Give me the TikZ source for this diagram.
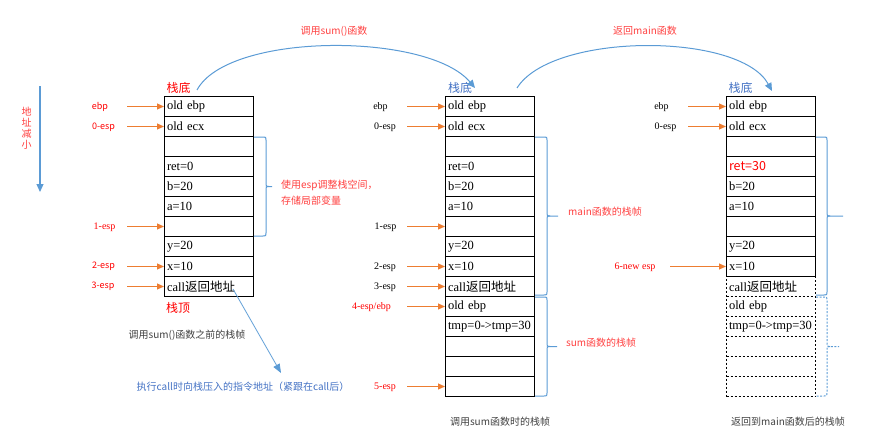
\documentclass[tikz,border=0pt]{standalone}
\usepackage{fontspec}
\setmainfont{Liberation Serif}
\newfontfamily\cjk{Noto Sans CJK SC}
\usetikzlibrary{arrows.meta,calc}

\definecolor{ored}{RGB}{237,125,49}
\definecolor{lblue}{RGB}{91,155,213}
\definecolor{dblue}{RGB}{68,114,196}
\definecolor{lred}{RGB}{255,64,64}
\definecolor{capgray}{RGB}{64,64,64}

\newcommand\ofbrace[6]{%
  \pgfmathsetmacro\bm{(#2+#3)/2}%
  \draw[#6] (#1,#2) -- ({#4-3},#2) .. controls (#4,#2) .. (#4,{#2+3}) -- (#4,{\bm-3}) .. controls (#4,\bm) .. ({#4+3},\bm) -- (#5,\bm);
  \draw[#6] ({#4+3},\bm) .. controls (#4,\bm) .. (#4,{\bm+3}) -- (#4,{#3-3}) .. controls (#4,#3) .. ({#4-3},#3) -- (#1,#3);
}

\begin{document}
\begin{tikzpicture}[x=1pt,y=-1pt,
  cell/.style={draw=black, line width=1pt, anchor=north west, minimum width=89pt, minimum height=20pt,
    inner xsep=2.5pt, inner ysep=0pt, text width=84pt, align=left, font=\fontsize{12.5}{14}\selectfont},
  dcell/.style={cell, dash pattern=on 2pt off 2pt},
  oarr/.style={draw=ored, line width=1pt, -{Triangle[length=7pt,width=6pt]}},
  barc/.style={draw=lblue, line width=1pt, -{Triangle[length=8pt,width=7pt]}},
  brc/.style={draw=lblue, line width=1pt},
  serlab/.style={font=\fontsize{10}{11}\selectfont, inner sep=0pt},
  sanlab/.style={font=\cjk\fontsize{9}{10}\selectfont, inner sep=0pt},
  captxt/.style={font=\cjk\fontsize{10}{12}\selectfont, text=capgray, inner sep=0pt},
  stk/.style={font=\cjk\fontsize{12}{13}\selectfont, inner sep=0pt},
  redtxt/.style={font=\cjk\fontsize{10}{12}\selectfont, text=lred, inner sep=0pt}
]
\useasboundingbox (0,0) rectangle (873,447);

% ---------- left column ----------
\foreach \t [count=\i] in {old ebp, old ecx, {}, ret=0, b=20, a=10, {}, y=20, x=10, call{\cjk 返回地址}}
  \node[cell] (L\i) at (164,{76+20*\i}) {\t};

% ---------- middle column ----------
\foreach \t [count=\i] in {old ebp, old ecx, {}, ret=0, b=20, a=10, {}, y=20, x=10, call{\cjk 返回地址}, old ebp, tmp=0->tmp=30, {}, {}, {}}
  \node[cell] (M\i) at (445,{76+20*\i}) {\t};

% ---------- right column ----------
\foreach \t [count=\i] in {old ebp, old ecx, {}, {\cjk\color{red}ret=30}, b=20, a=10, {}, y=20, x=10}
  \node[cell] (R\i) at (726,{76+20*\i}) {\t};
\foreach \t [count=\i from 10] in {call{\cjk 返回地址}, old ebp, tmp=0->tmp=30, {}, {}, {}}
  \node[dcell] (R\i) at (726,{76+20*\i}) {\t};

% ---------- stack labels ----------
\node[stk, text=red] (Lbot) at (178.5,88) {栈底};
\node[stk, text=red] (Ltop) at (178,308) {栈顶};
\node[stk, text=dblue] (Mbot) at (460,88) {栈底};
\node[stk, text=dblue] (Rbot) at (740.5,88) {栈底};

% ---------- pointer labels and arrows: left ----------
\node[sanlab, text=red] (lL1) at (100,107) {ebp};
\node[sanlab, text=red] (lL2) at (103.5,127) {0-esp};
\node[serlab, text=red] (lL7) at (104.5,227) {1-esp};
\node[sanlab, text=red] (lL9) at (103.5,266) {2-esp};
\node[sanlab, text=red] (lL10) at (103,286) {3-esp};
\foreach \i in {1,2,7,9,10}
  \draw[oarr] ($(L\i.west)+(-37,0)$) -- (L\i.west);

% ---------- pointer labels and arrows: middle ----------
\node[serlab] (lM1) at (380.5,107) {ebp};
\node[serlab] (lM2) at (385,127) {0-esp};
\node[serlab] (lM7) at (385.5,227) {1-esp};
\node[serlab] (lM9) at (385,267) {2-esp};
\node[serlab] (lM10) at (385,287) {3-esp};
\node[serlab, text=red] (lM11) at (371.5,307) {4-esp/ebp};
\node[serlab, text=red] (lM15) at (385,387) {5-esp};
\foreach \i in {1,2,7,9,10,11,15}
  \draw[oarr] ($(M\i.west)+(-38,0)$) -- (M\i.west);

% ---------- pointer labels and arrows: right ----------
\node[serlab] (lR1) at (661.5,107) {ebp};
\node[serlab] (lR2) at (665.5,127) {0-esp};
\node[serlab, text=red] (lR9) at (635,267) {6-new esp};
\foreach \i in {1,2}
  \draw[oarr] ($(R\i.west)+(-38,0)$) -- (R\i.west);
\draw[oarr] ($(R9.west)+(-56,0)$) -- (R9.west);

% ---------- address direction ----------
\coordinate (dtop) at (40,86);
\coordinate (dbot) at (40,192);
\draw[draw=lblue, line width=1.2pt, -{Triangle[length=8pt,width=7pt]}] (dtop) -- (dbot);
\node[font=\cjk\fontsize{10}{11}\selectfont, text=lred, align=center, inner sep=0pt] (addr) at (26.5,128.5) {地\\址\\减\\小};

% ---------- top arcs ----------
\coordinate (a1s) at (197,90);
\coordinate (a1e) at (475,88);
\draw[barc] (a1s) .. controls (228,32) and (428,32) .. (a1e);
\node[redtxt] (t1) at (334,31) {调用sum()函数};
\coordinate (a2s) at (517,88);
\coordinate (a2e) at (772,91);
\draw[barc] (a2s) .. controls (552,32) and (740,32) .. (a2e);
\node[redtxt] (t2) at (645,31) {返回main函数};

% ---------- braces ----------
\ofbrace{254}{137}{236}{266}{272}{brc}
\node[redtxt, anchor=west, align=left, font=\cjk\fontsize{10}{16}\selectfont] (bl1) at (281,193) {使用esp调整栈空间，\\存储局部变量};
\ofbrace{535}{137}{295}{547}{558}{brc}
\node[redtxt, anchor=west] (bl2) at (568,212) {main函数的栈帧};
\ofbrace{535}{297}{396}{547}{557}{brc}
\node[redtxt, anchor=west] (bl3) at (566,343) {sum函数的栈帧};
\ofbrace{816}{137}{295}{827}{843}{brc}
\ofbrace{816}{297}{396}{827}{839}{brc, dash pattern=on 2pt off 1.5pt}

% ---------- call return address arrow ----------
\coordinate (cs) at (233,289);
\coordinate (ce) at (281,373);
\draw[draw=lblue, line width=0.8pt, -{Triangle[length=9pt,width=7pt]}] (cs) -- (ce);
\node[font=\cjk\fontsize{10}{12}\selectfont, text=dblue, inner sep=0pt] (calltxt) at (243,387) {执行call时向栈压入的指令地址（紧跟在call后）};

% ---------- captions ----------
\node[captxt] (cap1) at (187,335) {调用sum()函数之前的栈帧};
\node[captxt] (cap2) at (500,422) {调用sum函数时的栈帧};
\node[captxt] (cap3) at (788,422) {返回到main函数后的栈帧};
\end{tikzpicture}
\end{document}
